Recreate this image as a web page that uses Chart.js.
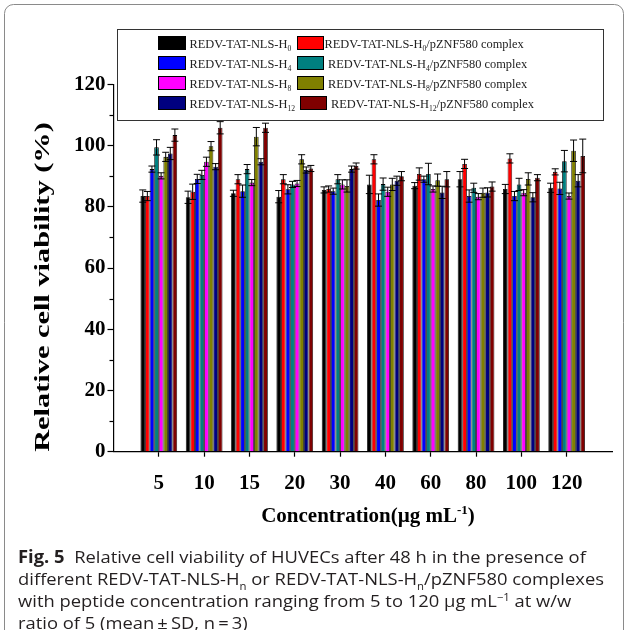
<!DOCTYPE html>
<html>
<head>
<meta charset="utf-8">
<script src="https://cdn.jsdelivr.net/npm/chart.js@4.4.1/dist/chart.umd.min.js"></script>
<style>
  html, body { margin: 0; padding: 0; background: #fff; }
</style>
</head>
<body>
<canvas id="chart" width="629" height="630"></canvas>
<script>
// Concentrations (ug/mL) on the x axis
const concentrations = ['5', '10', '15', '20', '30', '40', '60', '80', '100', '120'];

// Relative cell viability (%)
const h0 = [83.5, 83.1, 84.4, 83.3, 85.5, 87.3, 86.9, 89.0, 85.8, 86.2];
const h0Complex = [83.5, 84.9, 89.0, 89.0, 85.8, 95.5, 90.7, 94.0, 95.8, 91.4];
const h4 = [92.3, 89.1, 85.1, 85.7, 85.1, 82.2, 89.0, 83.5, 83.5, 86.0];
const h4Complex = [99.4, 90.4, 92.3, 87.3, 89.0, 87.4, 90.7, 86.2, 87.3, 94.9];
const h8 = [90.1, 94.7, 87.9, 87.6, 87.3, 84.9, 85.8, 83.3, 84.6, 83.5];
const h8Complex = [96.3, 99.8, 102.9, 95.5, 86.8, 87.3, 88.7, 84.6, 89.1, 98.3];
const h12 = [97.4, 93.1, 94.7, 92.0, 92.3, 88.5, 84.7, 84.7, 83.1, 88.5];
const h12Complex = [103.4, 105.8, 105.8, 92.5, 93.3, 90.0, 89.0, 86.6, 89.5, 96.6];

// Standard deviations
const h0Err = [2, 2, 1, 2, 1, 3, 1, 2.5, 1.5, 1.5];
const h0ComplexErr = [1.5, 2.5, 1.5, 1.5, 1, 1.5, 2, 1.5, 1.5, 1];
const h4Err = [1, 1.5, 2, 1.5, 1, 2, 1, 2, 1.5, 2];
const h4ComplexErr = [2.5, 1.5, 1.5, 1, 1.5, 2, 3.5, 1.5, 2, 3.5];
const h8Err = [1, 1.5, 1, 1, 1.5, 1.5, 1, 1, 1, 1];
const h8ComplexErr = [1.5, 1.5, 3, 1.5, 2, 2, 2, 1.5, 2, 3.5];
const h12Err = [2, 1, 1, 1, 1, 1.5, 2, 1.5, 1.5, 2];
const h12ComplexErr = [2, 2, 1.5, 1, 1, 1.5, 2.5, 1.5, 1, 5.5];

const subscripts = ['0', '4', '8', '12'];
const colors = ['#000000', '#ff0000', '#0000ff', '#008080', '#ff00ff', '#808000', '#000080', '#800000'];
const yTicks = [0, 20, 40, 60, 80, 100, 120];

const seriesValues = [h0, h0Complex, h4, h4Complex, h8, h8Complex, h12, h12Complex];
const seriesErrors = [h0Err, h0ComplexErr, h4Err, h4ComplexErr, h8Err, h8ComplexErr, h12Err, h12ComplexErr];

// empty slot at each end so the groups sit one step in from the axis ends
const pad = arr => [null, ...arr, null];
const labels = ['', ...concentrations, ''];

const datasets = seriesValues.map((vals, i) => ({
    label: 'REDV-TAT-NLS-H' + subscripts[Math.floor(i / 2)] + (i % 2 ? '/pZNF580 complex' : ''),
    data: pad(vals),
    errors: pad(seriesErrors[i]),
    backgroundColor: colors[i],
    borderColor: '#000',
    borderWidth: 0.8,
    categoryPercentage: 0.81,
    barPercentage: 1.0
}));

const SERIF = '"Liberation Serif", "Times New Roman", serif';
const SANS = '"Open Sans", "Noto Sans", sans-serif';

// draw text made of parts, some of them sub/superscript; returns width
function drawRich(ctx, parts, x, y, size, family, weight, measureOnly) {
    let cx = x;
    parts.forEach(p => {
        let s = size, dy = 0;
        if (p.sub) { s = size * 0.62; dy = size * 0.3; }
        if (p.sup) { s = size * 0.62; dy = -size * 0.38; }
        ctx.font = (p.b ? 'bold ' : (weight || '')) + ' ' + s + 'px ' + family;
        if (!measureOnly) ctx.fillText(p.t, cx, y + dy);
        cx += ctx.measureText(p.t).width;
    });
    return cx - x;
}

// error bars on top of each bar
const errorBars = {
    id: 'errorBars',
    afterDatasetsDraw(chart) {
        const ctx = chart.ctx;
        const yScale = chart.scales.y;
        ctx.save();
        ctx.strokeStyle = '#000';
        ctx.lineWidth = 1;
        chart.data.datasets.forEach((ds, i) => {
            chart.getDatasetMeta(i).data.forEach((bar, j) => {
                const v = ds.data[j];
                if (v == null) return;
                const e = ds.errors[j];
                const top = yScale.getPixelForValue(v + e);
                const bot = yScale.getPixelForValue(v - e);
                const w = 3.5;
                ctx.beginPath();
                ctx.moveTo(bar.x, top); ctx.lineTo(bar.x, bot);
                ctx.moveTo(bar.x - w, top); ctx.lineTo(bar.x + w, top);
                ctx.moveTo(bar.x - w, bot); ctx.lineTo(bar.x + w, bot);
                ctx.stroke();
            });
        });
        ctx.restore();
    }
};

// frame, legend box, minor ticks, axis titles and caption
const decorations = {
    id: 'decorations',
    afterDraw(chart) {
        const ctx = chart.ctx;
        const area = chart.chartArea;
        const yScale = chart.scales.y;
        ctx.save();

        // outer figure frame
        ctx.strokeStyle = '#8a8a8a';
        ctx.lineWidth = 1;
        ctx.beginPath();
        ctx.roundRect(4.5, 4.5, 619, 700, 9);
        ctx.stroke();

        // minor y ticks
        ctx.strokeStyle = '#000';
        ctx.lineWidth = 1.2;
        for (let v = 10; v < 120; v += 20) {
            const py = Math.round(yScale.getPixelForValue(v)) + 0.5;
            ctx.beginPath();
            ctx.moveTo(area.left - 4, py);
            ctx.lineTo(area.left, py);
            ctx.stroke();
        }

        // legend box
        ctx.lineWidth = 1;
        ctx.strokeStyle = '#333';
        ctx.strokeRect(117.5, 29.5, 486, 91);
        const rowY = [43, 63, 83, 103];
        const col2Swatch = [297, 297, 297, 300];
        const col2Text = [324.5, 328, 328, 331];
        ctx.textBaseline = 'alphabetic';
        ctx.textAlign = 'left';
        subscripts.forEach((sub, r) => {
            const y = rowY[r];
            // plain peptide
            ctx.fillStyle = colors[r * 2];
            ctx.fillRect(158, y - 7, 28, 14);
            ctx.strokeStyle = '#000';
            ctx.strokeRect(158.5, y - 6.5, 27, 13);
            ctx.fillStyle = '#222';
            drawRich(ctx, [{ t: 'REDV-TAT-NLS-H' }, { t: sub, sub: true }], 189.5, y + 4.5, 12.4, SERIF);
            // complex
            ctx.fillStyle = colors[r * 2 + 1];
            ctx.fillRect(col2Swatch[r], y - 7, 27, 14);
            ctx.strokeRect(col2Swatch[r] + 0.5, y - 6.5, 26, 13);
            ctx.fillStyle = '#222';
            drawRich(ctx, [{ t: 'REDV-TAT-NLS-H' }, { t: sub, sub: true }, { t: '/pZNF580 complex' }],
                col2Text[r], y + 4.5, 12.4, SERIF);
        });

        // y axis title, stretched along its length like the original figure
        ctx.fillStyle = '#000';
        ctx.save();
        ctx.translate(49, 287);
        ctx.rotate(-Math.PI / 2);
        ctx.scale(1.38, 1);
        ctx.textAlign = 'center';
        ctx.font = 'bold 22px ' + SERIF;
        ctx.fillText('Relative cell viability (%)', 0, 0);
        ctx.restore();

        // x axis title with superscript
        ctx.textAlign = 'left';
        const xTitle = [{ t: 'Concentration(\u00b5g mL', b: true }, { t: '-1', sup: true, b: true }, { t: ')', b: true }];
        const tw = drawRich(ctx, xTitle, 0, 0, 21, SERIF, 'bold', true);
        drawRich(ctx, xTitle, 368 - tw / 2, 522, 21, SERIF, 'bold');

        // caption
        const caption = [
            [{ t: 'Fig. 5', b: true }, { t: '  Relative cell viability of HUVECs after 48 h in the presence of' }],
            [{ t: 'different REDV-TAT-NLS-H' }, { t: 'n', sub: true }, { t: ' or REDV-TAT-NLS-H' }, { t: 'n', sub: true }, { t: '/pZNF580 complexes' }],
            [{ t: 'with peptide concentration ranging from 5 to 120 \u00b5g mL' }, { t: '\u22121', sup: true }, { t: ' at w/w' }],
            [{ t: 'ratio of 5 (mean\u2009\u00b1\u2009SD, n\u2009=\u20093)' }]
        ];
        const capSize = 17;
        const natural = drawRich(ctx, caption[1], 0, 0, capSize, SANS, '', true);
        const sx = 586 / natural;
        const baselines = [563, 585, 607, 629];
        ctx.fillStyle = '#231f20';
        caption.forEach((line, i) => {
            ctx.save();
            ctx.translate(18, baselines[i]);
            ctx.scale(sx, 1);
            drawRich(ctx, line, 0, 0, capSize, SANS, '');
            ctx.restore();
        });

        ctx.restore();
    }
};

new Chart(document.getElementById('chart'), {
    type: 'bar',
    data: { labels: labels, datasets: datasets },
    options: {
        responsive: false,
        animation: false,
        layout: { padding: { top: 84.3, right: 17, bottom: 0, left: 0 } },
        plugins: { legend: { display: false }, tooltip: { enabled: false } },
        scales: {
            x: {
                offset: false,
                grid: {
                    offset: false,
                    drawOnChartArea: false,
                    tickLength: 5,
                    tickWidth: 1.2,
                    tickColor: c => (c.index === 0 || c.index === labels.length - 1) ? 'rgba(0,0,0,0)' : '#000'
                },
                border: { color: '#000', width: 1.2 },
                ticks: {
                    autoSkip: false,
                    maxRotation: 0,
                    padding: 14,
                    color: '#000',
                    font: { family: SERIF, size: 21, weight: 'bold' }
                },
                afterFit: s => { s.height = 178.3; }
            },
            y: {
                min: 0,
                max: 120,
                afterBuildTicks: s => { s.ticks = yTicks.map(v => ({ value: v })); },
                grid: { drawOnChartArea: false, tickLength: 6, tickWidth: 1.2, tickColor: '#000' },
                border: { color: '#000', width: 1.2 },
                ticks: {
                    padding: 2,
                    color: '#000',
                    font: { family: SERIF, size: 21, weight: 'bold' }
                },
                afterFit: s => { s.width = 113.5; }
            }
        }
    },
    plugins: [errorBars, decorations]
});
</script>
</body>
</html>
